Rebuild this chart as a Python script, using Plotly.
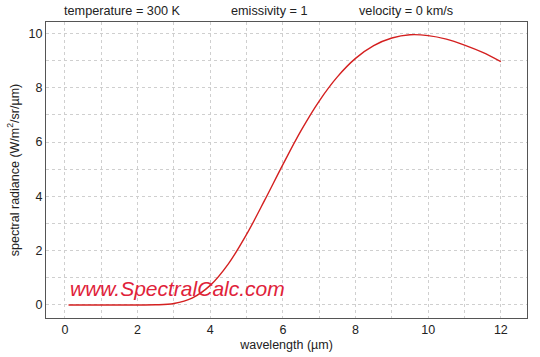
import plotly.graph_objects as go

wavelength = [0.1, 0.5, 1.0, 1.5, 2.0, 2.5, 3.0, 3.5, 4.0, 4.5, 5.0, 5.5, 6.0, 6.5,
              7.0, 7.5, 8.0, 8.5, 9.0, 9.5, 10.0, 10.5, 11.0, 11.5, 12.0]
radiance = [0.0, 0.0, 0.0, 0.0, 0.0001, 0.006, 0.056, 0.254, 0.722, 1.515, 2.60, 3.86,
            5.17, 6.42, 7.51, 8.40, 9.08, 9.55, 9.83, 9.95, 9.92, 9.79, 9.57, 9.30, 8.96]
x_ticks = [0, 2, 4, 6, 8, 10, 12]
y_ticks = [0, 2, 4, 6, 8, 10]

fig = go.Figure()
fig.add_trace(go.Scatter(x=wavelength, y=radiance, mode="lines",
                         line=dict(color="#d42020", width=1.4, shape="spline"),
                         hoverinfo="skip"))

font = dict(family="Liberation Sans, Arial, sans-serif", color="#222", size=12)
axis_common = dict(showline=True, linecolor="#555", linewidth=1.2, mirror=True,
                   showgrid=True, gridcolor="#cfcfcf", griddash="dot", gridwidth=1,
                   zeroline=False, ticks="", tickfont=dict(size=12.5, color="#222"),
                   automargin=False)

fig.update_xaxes(range=[-0.52, 12.72], tickvals=x_ticks,
                 minor=dict(dtick=1, showgrid=True, gridcolor="#cfcfcf", griddash="dot"),
                 title=dict(text="wavelength (µm)", font=dict(size=12.5), standoff=4),
                 **axis_common)
fig.update_yaxes(range=[-0.48, 10.42], tickvals=y_ticks,
                 minor=dict(dtick=1, showgrid=True, gridcolor="#cfcfcf", griddash="dot"),
                 title=dict(text="spectral radiance (W/m<sup>2</sup>/sr/µm)", font=dict(size=12.5), standoff=6),
                 **axis_common)

for txt, xp in [("temperature = 300 K", 0.16), ("emissivity = 1", 0.464), ("velocity = 0 km/s", 0.748)]:
    fig.add_annotation(text=txt, xref="paper", yref="paper", x=xp, y=1.0, xanchor="center",
                       yanchor="bottom", yshift=2, showarrow=False, font=dict(size=12.7, color="#222"))

fig.add_annotation(text="<i>www.SpectralCalc.com</i>", xref="x", yref="y", x=0.08, y=0.6,
                   xanchor="left", yanchor="middle", showarrow=False,
                   font=dict(size=21, color="#e0223a", family="Liberation Sans, Arial, sans-serif"))

fig.update_layout(width=540, height=357, margin=dict(l=46, r=13, t=22, b=39),
                  paper_bgcolor="white", plot_bgcolor="white", showlegend=False, font=font)

fig.write_html("out.html", config={"displayModeBar": False},
               post_script="document.body.style.margin='0px';")
